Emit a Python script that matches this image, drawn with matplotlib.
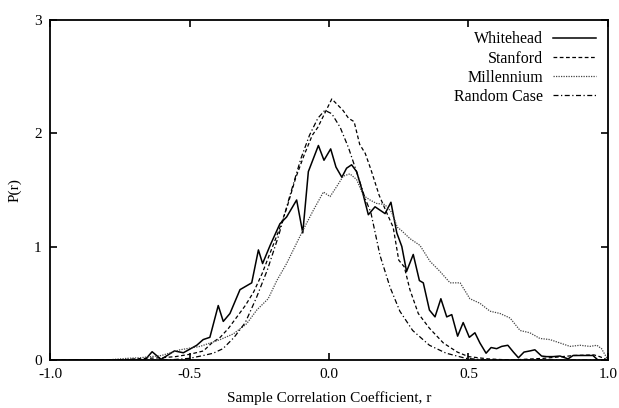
import matplotlib
matplotlib.use("Agg")
import matplotlib.pyplot as plt

plt.rcParams["font.family"] = ["Liberation Serif", "DejaVu Serif"]
plt.rcParams["axes.unicode_minus"] = False

# Whitehead (solid, noisy)
r_white = [-1.0, -0.66, -0.634, -0.602, -0.554, -0.522, -0.474, -0.451, -0.427, -0.397,
           -0.379, -0.355, -0.319, -0.277, -0.253, -0.238, -0.211, -0.176, -0.152, -0.116,
           -0.094, -0.074, -0.038, -0.018, 0.006, 0.025, 0.046, 0.063, 0.081, 0.099,
           0.117, 0.141, 0.165, 0.201, 0.222, 0.243, 0.261, 0.278, 0.302, 0.324,
           0.338, 0.360, 0.380, 0.401, 0.422, 0.440, 0.461, 0.481, 0.503, 0.523,
           0.541, 0.563, 0.581, 0.601, 0.619, 0.641, 0.661, 0.679, 0.699, 0.720,
           0.738, 0.762, 0.780, 0.803, 0.828, 0.857, 0.875, 0.924, 0.946, 0.964, 1.0]
p_white = [0.0, 0.0, 0.073, 0.006, 0.08, 0.064, 0.13, 0.18, 0.20, 0.48,
           0.34, 0.41, 0.62, 0.68, 0.97, 0.85, 1.01, 1.20, 1.26, 1.41,
           1.12, 1.66, 1.89, 1.76, 1.86, 1.70, 1.61, 1.69, 1.72, 1.66,
           1.51, 1.28, 1.35, 1.29, 1.39, 1.12, 1.00, 0.78, 0.93, 0.70,
           0.68, 0.44, 0.38, 0.54, 0.38, 0.40, 0.21, 0.33, 0.20, 0.24,
           0.15, 0.06, 0.11, 0.10, 0.12, 0.13, 0.07, 0.02, 0.07, 0.08,
           0.09, 0.035, 0.03, 0.03, 0.035, 0.01, 0.04, 0.04, 0.04, 0.0, 0.0]

# Stanford (dashed)
r_stan = [-1.0, -0.75, -0.7, -0.6, -0.55, -0.5, -0.45, -0.42, -0.39, -0.36,
          -0.33, -0.3, -0.27, -0.24, -0.21, -0.18, -0.15, -0.12, -0.09, -0.06,
          -0.04, -0.02, 0.01, 0.03, 0.05, 0.07, 0.09, 0.11, 0.13, 0.15,
          0.18, 0.21, 0.23, 0.25, 0.27, 0.29, 0.32, 0.36, 0.41, 0.46,
          0.5, 0.57, 0.65, 0.77, 0.88, 0.95, 0.97, 1.0]
p_stan = [0.0, 0.0, 0.01, 0.02, 0.03, 0.05, 0.08, 0.15, 0.2, 0.28,
          0.38, 0.48, 0.6, 0.76, 0.95, 1.14, 1.35, 1.6, 1.8, 1.98,
          2.05, 2.15, 2.30, 2.25, 2.2, 2.13, 2.1, 1.9, 1.82, 1.68,
          1.45, 1.28, 1.17, 0.88, 0.82, 0.62, 0.41, 0.28, 0.15, 0.07,
          0.03, 0.01, 0.0, 0.015, 0.04, 0.045, 0.03, 0.0]

# Millennium (dotted)
r_mill = [-1.0, -0.8, -0.722, -0.677, -0.6, -0.534, -0.462, -0.39, -0.343, -0.295,
          -0.259, -0.218, -0.187, -0.152, -0.116, -0.092, -0.056, -0.02, 0.004, 0.028,
          0.051, 0.075, 0.099, 0.123, 0.147, 0.17, 0.2, 0.225, 0.245, 0.26,
          0.29, 0.326, 0.362, 0.398, 0.434, 0.47, 0.505, 0.541, 0.577, 0.613,
          0.649, 0.685, 0.72, 0.756, 0.792, 0.828, 0.864, 0.90, 0.935, 0.96,
          0.977, 1.0]
p_mill = [0.0, 0.0, 0.015, 0.02, 0.04, 0.09, 0.12, 0.18, 0.23, 0.32,
          0.44, 0.54, 0.70, 0.85, 1.03, 1.15, 1.32, 1.48, 1.44, 1.53,
          1.62, 1.64, 1.59, 1.45, 1.41, 1.38, 1.37, 1.30, 1.17, 1.14,
          1.07, 1.01, 0.87, 0.78, 0.68, 0.68, 0.54, 0.50, 0.43, 0.41,
          0.37, 0.26, 0.24, 0.19, 0.18, 0.15, 0.12, 0.13, 0.12, 0.13,
          0.10, 0.0]

# Random Case (dash-dot)
r_rand = [-1.0, -0.6, -0.55, -0.5, -0.45, -0.415, -0.38, -0.34, -0.3, -0.26,
          -0.22, -0.18, -0.14, -0.1, -0.07, -0.04, -0.015, 0.01, 0.04, 0.07,
          0.1, 0.13, 0.15, 0.183, 0.219, 0.254, 0.3, 0.36, 0.42, 0.49,
          0.55, 0.6, 1.0]
p_rand = [0.0, 0.0, 0.005, 0.015, 0.04, 0.06, 0.1, 0.2, 0.33, 0.55,
          0.8, 1.1, 1.45, 1.78, 1.98, 2.13, 2.2, 2.17, 2.05, 1.87,
          1.65, 1.42, 1.3, 0.92, 0.64, 0.43, 0.26, 0.13, 0.06, 0.015,
          0.003, 0.0, 0.0]

fig = plt.figure(figsize=(6.19, 4.08), dpi=100)
ax = fig.add_axes([0.0808, 0.1176, 0.9014, 0.8346])

ax.plot(r_white, p_white, "-", color="black", lw=1.1, label="Whitehead")
ax.plot(r_stan, p_stan, color="black", lw=0.9, dashes=(3, 2), label="Stanford")
ax.plot(r_mill, p_mill, color="#444444", lw=0.9, dashes=(1, 1), label="Millennium")
ax.plot(r_rand, p_rand, color="black", lw=0.9, dashes=(4, 2, 1, 2), label="Random Case")

ax.set_xlim(-1, 1)
ax.set_ylim(0, 3)
ax.set_xticks([-1.0, -0.5, 0.0, 0.5, 1.0])
ax.set_xticklabels(["-1.0", "-0.5", "0.0", "0.5", "1.0"])
ax.set_yticks([0, 1, 2, 3])
ax.set_yticklabels(["0", "1", "2", "3"])
ax.tick_params(direction="in", top=True, right=True, length=5, width=1.2, labelsize=11, pad=6)
for s in ax.spines.values():
    s.set_linewidth(1.3)

ax.set_xlabel("Sample Correlation Coefficient, r", fontsize=11, labelpad=7)
ax.set_ylabel("P(r)", fontsize=11, labelpad=9)

ax.legend(loc="upper right", frameon=False, markerfirst=False, fontsize=11.5,
          handlelength=2.7, labelspacing=0.2, borderaxespad=0.35, handletextpad=0.6)

fig.savefig("out.png", dpi=100)
